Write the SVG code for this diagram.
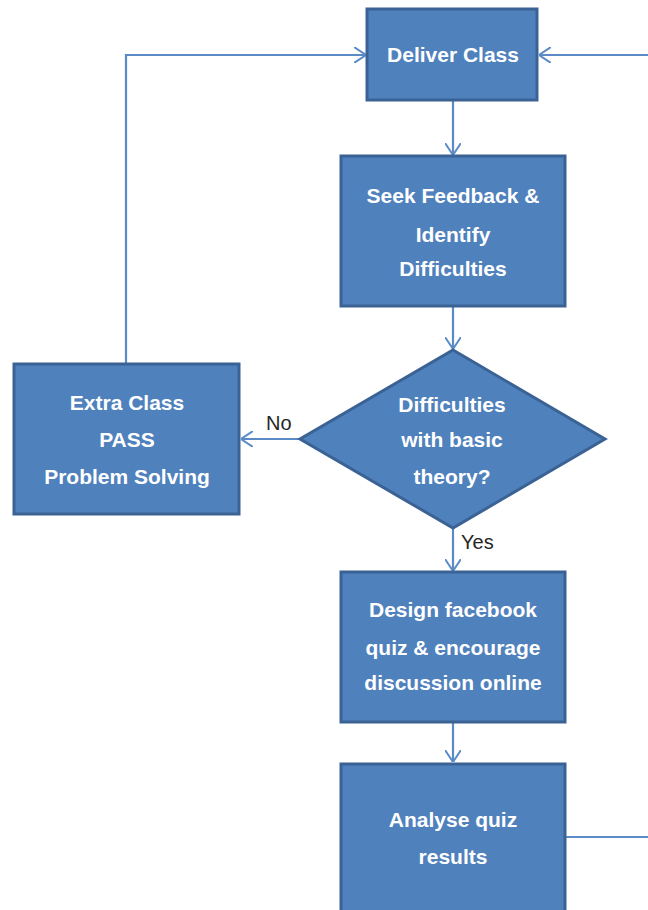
<svg xmlns="http://www.w3.org/2000/svg" width="648" height="910" viewBox="0 0 648 910">
<style>
.box{fill:#4f81bd;stroke:#3b6294;stroke-width:3}
.lbl{font-family:"Liberation Sans",Arial,sans-serif;font-size:21px;font-weight:bold;fill:#ffffff;text-anchor:middle}
.edge{fill:none;stroke:#5b8bc6;stroke-width:2.2}
.el{font-family:"Liberation Sans",Arial,sans-serif;font-size:20px;fill:#262626}
</style>
<defs>
<marker id="arr" viewBox="0 0 12 16" refX="12" refY="8" markerWidth="12" markerHeight="16" markerUnits="userSpaceOnUse" orient="auto">
<path d="M0,0 L12,8 L0,16" fill="none" stroke="#5b8bc6" stroke-width="2"/>
</marker>
</defs>
<rect width="648" height="910" fill="#ffffff"/>
<g id="connectors">
<path class="edge" d="M648,55 L539,55" marker-end="url(#arr)"/>
<path class="edge" d="M126,363 L126,55 L366,55" marker-end="url(#arr)"/>
<path class="edge" d="M453,101 L453,155" marker-end="url(#arr)"/>
<path class="edge" d="M453,307 L453,349" marker-end="url(#arr)"/>
<path class="edge" d="M300,439 L241,439" marker-end="url(#arr)"/>
<path class="edge" d="M453,529 L453,571" marker-end="url(#arr)"/>
<path class="edge" d="M453,723 L453,762" marker-end="url(#arr)"/>
<path class="edge" d="M566,837 L648,837"/>
<text class="el" x="266" y="430">No</text>
<text class="el" x="461" y="549">Yes</text>
</g>
<g id="deliver">
<rect class="box" x="367" y="9" width="170" height="91"/>
<text class="lbl" x="453" y="62">Deliver Class</text>
</g>
<g id="seek">
<rect class="box" x="341" y="156" width="224" height="150"/>
<text class="lbl" x="453" y="203">Seek Feedback &amp;</text>
<text class="lbl" x="453" y="242">Identify</text>
<text class="lbl" x="453" y="276">Difficulties</text>
</g>
<g id="decision">
<polygon class="box" points="453,350 605,439 453,528 300,439"/>
<text class="lbl" x="452" y="412">Difficulties</text>
<text class="lbl" x="452" y="447">with basic</text>
<text class="lbl" x="452" y="484">theory?</text>
</g>
<g id="extra">
<rect class="box" x="14" y="364" width="225" height="150"/>
<text class="lbl" x="127" y="410">Extra Class</text>
<text class="lbl" x="127" y="447">PASS</text>
<text class="lbl" x="127" y="484">Problem Solving</text>
</g>
<g id="design">
<rect class="box" x="341" y="572" width="224" height="150"/>
<text class="lbl" x="453" y="617">Design facebook</text>
<text class="lbl" x="453" y="655">quiz &amp; encourage</text>
<text class="lbl" x="453" y="690">discussion online</text>
</g>
<g id="analyse">
<rect class="box" x="341" y="764" width="224" height="160"/>
<text class="lbl" x="453" y="827">Analyse quiz</text>
<text class="lbl" x="453" y="864">results</text>
</g>
</svg>
